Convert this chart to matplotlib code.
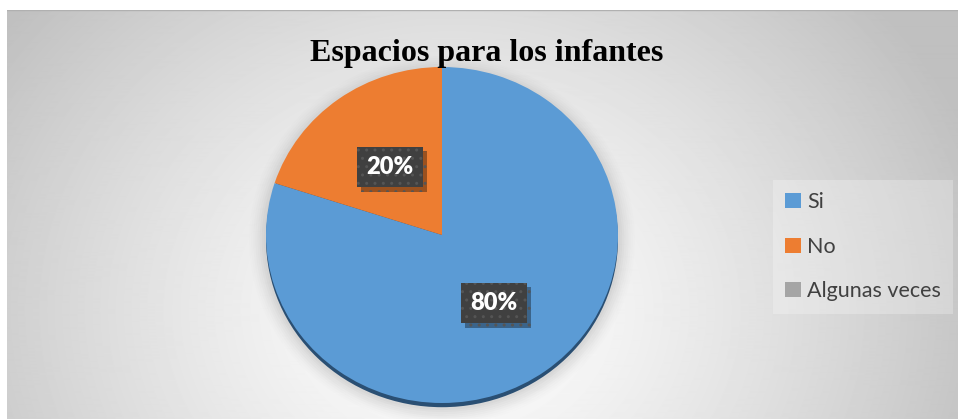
import numpy as np
import matplotlib
matplotlib.use('Agg')
from matplotlib import pyplot as plt
from matplotlib.patches import Ellipse
from matplotlib import patheffects as pe

TITLE = 'Espacios para los infantes'
categories = ['Si', 'No', 'Algunas veces']
values = [80, 20, 0]
colors = ['#5B9BD5', '#ED7D31', '#A5A5A5']

W, H = 958, 419
fig = plt.figure(figsize=(W / 100, H / 100), dpi=100)
fig.patch.set_facecolor('white')


def fx(px):
    return px / W


def fy(py):
    return 1 - py / H


# chart area with radial gradient background
bg = fig.add_axes([fx(7), 0, fx(W - 7), fy(10)])
bg.set_axis_off()
yy, xx = np.mgrid[0:409, 0:951]
dist = np.hypot((xx - 445) / 1.0, (yy - 300) / 0.85)
shade = np.clip(1.0 - 0.25 * (dist / 560) ** 1.3, 0.75, 1.0)
bg.imshow(shade, cmap='gray', vmin=0, vmax=1, aspect='auto',
          extent=(0, 951, 409, 0), interpolation='bilinear')
bg.plot([0, 951], [0.5, 0.5], color='#b0b0b0', lw=1)
bg.set_xlim(0, 951)
bg.set_ylim(409, 0)

# pie
cx, cy, rx, ry = 442, 235, 176, 168
k = 1.3
ax = fig.add_axes([fx(cx - k * rx), fy(cy + k * ry), fx(2 * k * rx), 2 * k * ry / H])
ax.set_axis_off()

# soft shadow and rim
for i, a in enumerate(np.linspace(0.05, 0.012, 8)):
    s = 1.0 + 0.012 * (i + 1)
    ax.add_patch(Ellipse((0, -0.03), 2 * s, 2 * s, color='#808080', alpha=a, lw=0, zorder=0))
ax.add_patch(Ellipse((0, -0.025), 2, 2, color='#2a4f73', lw=0, zorder=1))


def fmt(p):
    return f'{p:.0f}%' if p > 0 else ''


wedges, texts, autotexts = ax.pie(values, colors=colors, startangle=90, counterclock=False,
                                  autopct=fmt, pctdistance=0.5, radius=1,
                                  wedgeprops=dict(linewidth=0, zorder=2))
for w in wedges:
    w.set_zorder(2)
ax.set_aspect('auto')
ax.set_xlim(-k, k)
ax.set_ylim(-k, k)

for t in autotexts:
    if not t.get_text():
        continue
    t.set_color('white')
    t.set_fontsize(17)
    t.set_fontweight('heavy')
    t.set_family('Lato')
    t.set_zorder(5)
    t.set_bbox(dict(boxstyle='square,pad=0.4', fc='#404040', ec='#555555',
                    hatch='..', lw=0))
    t.get_bbox_patch().set_path_effects([
        pe.SimplePatchShadow(offset=(3, -3), shadow_rgbFace='#000000', alpha=0.35),
        pe.Normal()])

# title
fig.text(fx(487), fy(53), TITLE, ha='center', va='center', fontsize=23,
         fontweight='bold', family='Liberation Serif', color='black')

# legend
leg = fig.legend(wedges, categories, loc='upper left',
                 bbox_to_anchor=(fx(773), fy(180)), borderaxespad=0, frameon=True,
                 prop=dict(family='Lato', size=15.5), labelcolor='#404040',
                 handlelength=0.7, handleheight=0.7, handletextpad=0.3,
                 labelspacing=1.13, borderpad=0.58, fancybox=False)
frame = leg.get_frame()
frame.set_facecolor('white')
frame.set_alpha(0.25)
frame.set_linewidth(0)

fig.savefig('out.png', dpi=100)
